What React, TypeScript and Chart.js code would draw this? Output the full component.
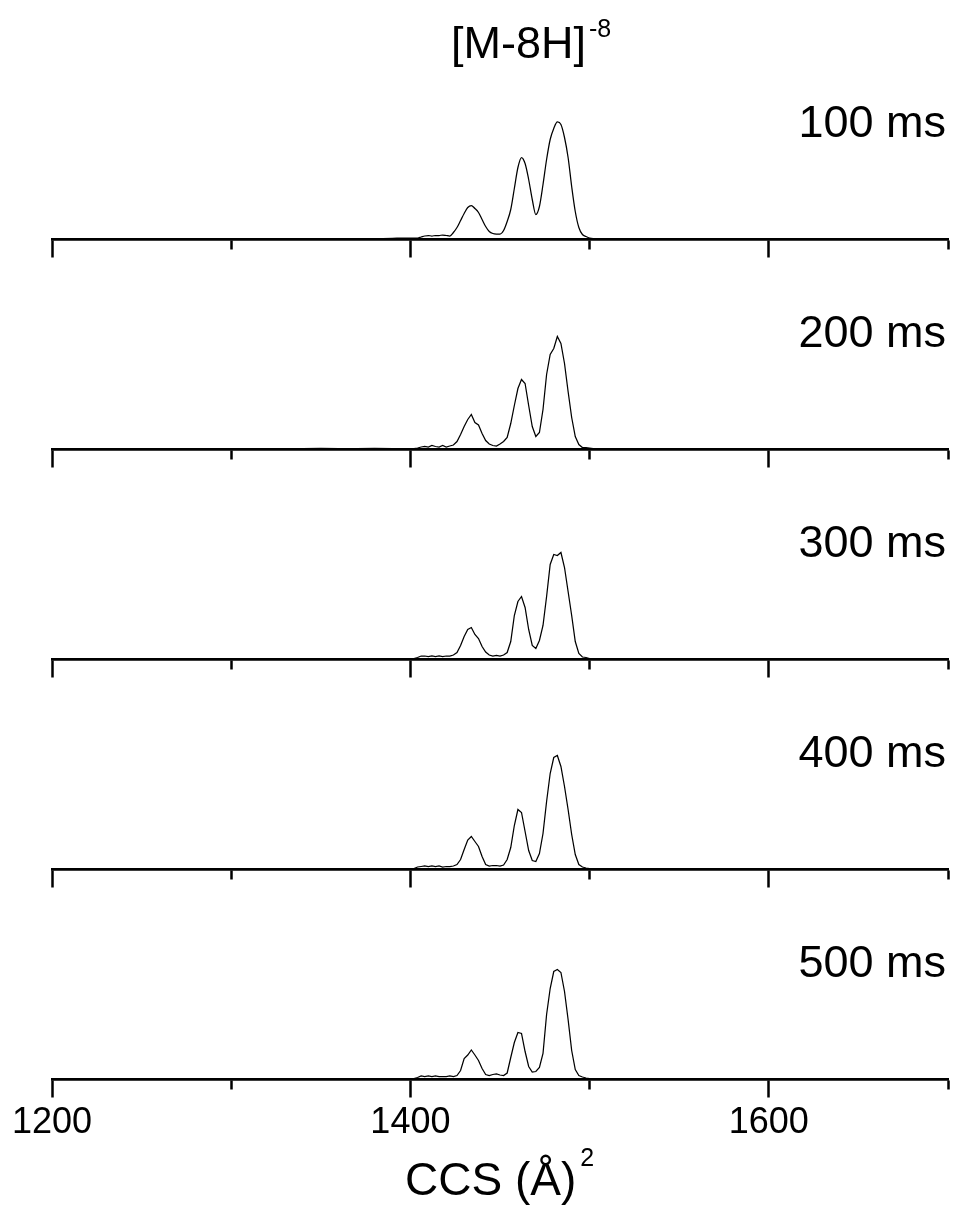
import React, { useEffect, useRef } from "react";
import { Chart, registerables } from "chart.js";

Chart.register(...registerables);

// CCS grid (Å²) shared by all traces
const CCS = [
  1310, 1320, 1334, 1340, 1350, 1360, 1370, 1380, 1390, 1396, 1400,
  1402, 1404, 1406, 1408, 1410, 1412, 1414, 1416, 1418, 1420,
  1422, 1424, 1426, 1428, 1430, 1432, 1434, 1436, 1438, 1440,
  1442, 1444, 1446, 1448, 1450, 1452, 1454, 1456, 1458, 1460,
  1462, 1464, 1466, 1468, 1470, 1472, 1474, 1476, 1478, 1480,
  1482, 1484, 1486, 1488, 1490, 1492, 1494, 1496, 1498, 1500,
  1502, 1504,
];

// Intensities (a.u.) for each trapping time
const I_100MS = [
  null, null, 1, 1, 1, 1, 1, 1, 1.2, 1.5, 1.5,
  1.5, 1.5, 2.5, 3.5, 4, 3.5, 4, 4, 4.5, 4,
  3.5, 7, 12, 19, 26, 32, 34, 31, 27, 20,
  13, 8, 6, 5.5, 5.5, 9, 18, 30, 51, 72,
  82, 76, 60, 40, 25, 33, 55, 80, 100, 111,
  117.5, 115, 102, 82, 53, 28, 12, 5, 3, 1.5,
  1, 1,
];
const I_200MS = [
  0.8, 1, 1, 1, 1.2, 1, 1, 1.2, 1, 1, 1,
  1, 1.5, 2.5, 3, 2.5, 4, 3, 2.5, 4, 2.5,
  3.5, 4.5, 8, 15, 23, 30, 35, 27, 24.5, 16,
  9, 5.5, 4, 3.5, 5.5, 8, 12, 26, 44, 61,
  70, 66, 44, 23, 13, 17, 40, 75, 95, 101,
  113, 106, 86, 58, 32, 13, 5, 2, 2, 1.5,
  1, 0.5,
];
const I_300MS = [
  null, 0.5, 0.8, 0.5, 0.5, 0.5, 0.5, 0.5, 0.5, 0.8, 1,
  1, 2, 3.5, 3.5, 3, 3.5, 3, 3.5, 3, 3.5,
  3.5, 4.5, 7, 14, 23, 30, 32, 25, 21, 13,
  7.5, 4.5, 3.5, 4, 3.5, 4.5, 7, 18, 44, 58,
  63, 52, 30, 14, 11, 19, 34, 63, 95, 105,
  104, 107, 92, 68, 44, 18, 6, 2.5, 2, 1,
  0.5, 0.5,
];
const I_400MS = [
  null, null, 0.5, 0.8, 0.5, 0.8, 0.5, 0.8, 0.5, 0.8, 1,
  1, 2.5, 3, 3.5, 3, 3.5, 3, 3.5, 2.5, 3,
  3, 3.5, 5, 10, 20, 29.5, 33, 28, 23, 13,
  5, 3.5, 4, 4, 3.5, 4.5, 10, 22, 44, 60,
  57, 38, 19, 9, 8, 16, 36, 68, 96, 112,
  114, 103, 83, 60, 35, 15, 5, 2.5, 1.5, 1,
  0.5, 0.5,
];
const I_500MS = [
  null, 0.5, 0.8, 0.5, 0.8, 0.5, 0.8, 0.5, 0.8, 0.8, 1,
  1, 2, 3.5, 3, 3.5, 3, 3.5, 3, 3, 3,
  3.5, 3, 4, 9, 21, 24.5, 29.5, 24.5, 19, 11,
  5, 4, 5, 5.5, 4.5, 4, 6.5, 22, 37, 47,
  46, 28, 13, 7.5, 8, 12, 26, 65, 91, 108,
  110, 107, 88, 60, 29, 10, 4, 2.5, 1.5, 1,
  0.5, 0.5,
];

const SERIES = [I_100MS, I_200MS, I_300MS, I_400MS, I_500MS];
const TIME_LABELS = ["100 ms", "200 ms", "300 ms", "400 ms", "500 ms"];
const MAJOR_TICKS = [1200, 1400, 1600];
const MINOR_TICKS = [1300, 1500, 1700];
const X_MIN = 1200;
const X_MAX = 1700;
const TITLE = "[M-8H]";
const TITLE_SUP = "-8";
const X_TITLE = "CCS (Å)";
const X_TITLE_SUP = "2";

const FONT = '"Liberation Sans", Arial, Helvetica, sans-serif';
const W = 956;
const PANEL_STEP = 210;
const AXIS_Y = 239.5; // local y of the axis line inside each canvas
const PLOT_TOP = 40;

function Panel({ index }: { index: number }) {
  const ref = useRef<HTMLCanvasElement | null>(null);
  const last = index === SERIES.length - 1;
  const height = last ? 386 : 260;

  useEffect(() => {
    if (!ref.current) return;
    const textPlugin = {
      id: "panelText",
      afterDraw(chart: any) {
        const { ctx, chartArea } = chart;
        ctx.save();
        ctx.fillStyle = "#000";
        ctx.textBaseline = "alphabetic";
        ctx.font = `45px ${FONT}`;
        ctx.textAlign = "right";
        ctx.fillText(TIME_LABELS[index], chartArea.right - 2, chartArea.bottom - 102.5);
        if (index === 0) {
          ctx.textAlign = "left";
          ctx.font = `45px ${FONT}`;
          ctx.fillText(TITLE, 451, 58);
          const w = ctx.measureText(TITLE).width;
          ctx.font = `25px ${FONT}`;
          ctx.fillText(TITLE_SUP, 451 + w + 3, 37);
        }
        if (last) {
          ctx.textAlign = "left";
          ctx.font = `46px ${FONT}`;
          ctx.fillText(X_TITLE, 405, 355);
          const w = ctx.measureText(X_TITLE).width;
          ctx.font = `25px ${FONT}`;
          ctx.fillText(X_TITLE_SUP, 405 + w + 4, 326);
        }
        ctx.restore();
      },
    };

    const chart = new Chart(ref.current, {
      type: "line",
      data: {
        datasets: [
          {
            data: CCS.map((x, i) => ({ x, y: SERIES[index][i] })),
            borderColor: "#000",
            borderWidth: 1.25,
            pointRadius: 0,
            fill: false,
            tension: 0,
            cubicInterpolationMode: index === 0 ? "monotone" : "default",
            spanGaps: false,
            xAxisID: "x",
            yAxisID: "y",
          } as any,
        ],
      },
      options: {
        animation: false,
        responsive: false,
        devicePixelRatio: 1,
        events: [],
        layout: {
          padding: { left: 52, right: 8, top: PLOT_TOP, bottom: height - AXIS_Y },
        },
        plugins: {
          legend: { display: false },
          tooltip: { enabled: false },
          title: { display: false },
        },
        scales: {
          y: { type: "linear", display: false, min: 0, max: AXIS_Y - PLOT_TOP },
          x: {
            type: "linear",
            axis: "x",
            position: { y: 0 },
            min: X_MIN,
            max: X_MAX,
            afterBuildTicks: (axis: any) => {
              axis.ticks = MAJOR_TICKS.map((v) => ({ value: v }));
            },
            grid: {
              drawOnChartArea: false,
              drawTicks: true,
              tickLength: 17,
              tickWidth: 2.5,
              tickColor: "#000",
            },
            border: { display: true, color: "#000", width: 2.5 },
            ticks: {
              display: last,
              color: "#000",
              font: { family: FONT, size: 36 },
              padding: 5,
              maxRotation: 0,
              autoSkip: false,
              callback: (v: any) => String(v),
            },
          },
          x2: {
            type: "linear",
            axis: "x",
            position: { y: 0 },
            min: X_MIN,
            max: X_MAX,
            afterBuildTicks: (axis: any) => {
              axis.ticks = MINOR_TICKS.map((v) => ({ value: v }));
            },
            grid: {
              drawOnChartArea: false,
              drawTicks: true,
              tickLength: 9,
              tickWidth: 2.5,
              tickColor: "#000",
            },
            border: { display: true, color: "#000", width: 2.5 },
            ticks: { display: false },
          },
        } as any,
      },
      plugins: [textPlugin],
    });
    return () => chart.destroy();
  }, [index]);

  return (
    <canvas
      ref={ref}
      width={W}
      height={height}
      style={{ position: "absolute", left: 0, top: index * PANEL_STEP, width: W, height }}
    />
  );
}

export default function App() {
  return (
    <div
      style={{
        position: "absolute",
        left: 0,
        top: 0,
        width: W,
        height: 1226,
        background: "#fff",
        overflow: "hidden",
      }}
    >
      {SERIES.map((_, i) => (
        <Panel key={i} index={i} />
      ))}
    </div>
  );
}
